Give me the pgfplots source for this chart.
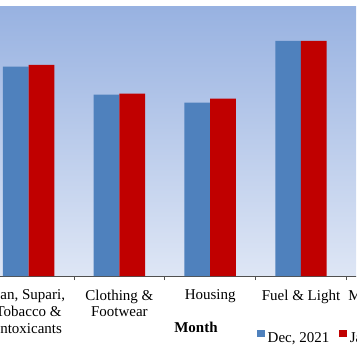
\documentclass[border=0pt]{standalone}
\usepackage{pgfplots}
\pgfplotsset{compat=1.18}
\usepackage{fontspec}
\setmainfont{Liberation Serif}
\definecolor{decblue}{RGB}{79,129,189}
\definecolor{janred}{RGB}{192,0,0}
\definecolor{bgtop}{RGB}{152,178,225}
\definecolor{bgbot}{RGB}{222,230,245}
\definecolor{axgray}{RGB}{80,80,80}
\begin{document}
\begin{tikzpicture}[x=1pt,y=1pt]
\useasboundingbox (0,0) rectangle (356,364);
\clip (0,0) rectangle (356,364);
\begin{axis}[
  at={(-16.8pt,88pt)}, anchor=south west,
  scale only axis, width=454pt, height=269pt,
  xmin=0.5, xmax=5.5, ymin=0, ymax=269,
  ybar=0pt, bar width=25.7pt,
  axis background/.style={top color=bgtop, bottom color=bgbot},
  axis x line*=bottom, axis y line=none,
  x axis line style={axgray, line width=0.8pt},
  xtick={1,2,3,4,5},
  xticklabels={{Pan, Supari,\\Tobacco \&\\Intoxicants},{Clothing \&\\Footwear},Housing,{Fuel \& Light},Miscellaneous},
  major tick length=0pt,
  major x tick style={draw=none},
  minor xtick={0.5,1.5,2.5,3.5,4.5,5.5},
  minor x tick style={axgray, line width=0.8pt},
  minor tick length=4pt,
  xtick align=outside,
  ytick=\empty,
  xticklabel style={font=\fontsize{15}{16.8}\selectfont, align=center, inner sep=0pt, anchor=north, yshift=-13.5pt},
  xlabel={Month},
  xlabel style={at={(axis description cs:0.4687,-0.2090)}, anchor=base, font=\fontsize{15}{18}\selectfont\bfseries, inner sep=0pt},
  legend style={at={(axis description cs:0.6031,-0.2270)}, anchor=west, draw=none, fill=none, inner sep=0pt, font=\fontsize{15}{18}\selectfont, nodes={inner sep=0pt}, /tikz/every even column/.append style={column sep=10pt}, /tikz/every odd column/.append style={column sep=3pt}},
  legend columns=-1,
  legend image code/.code={\fill[#1] (0pt,1.4pt) rectangle (7.5pt,8.6pt);},
]
\addplot[fill=decblue, draw=none] coordinates {(1,209.3) (2,181.3) (3,173.3) (4,235)};
\addlegendentry{Dec, 2021}
\addplot[fill=janred, draw=none] coordinates {(1,211) (2,182.3) (3,177.3) (4,235)};
\addlegendentry{Jan, 2022}
\end{axis}
\end{tikzpicture}
\end{document}
